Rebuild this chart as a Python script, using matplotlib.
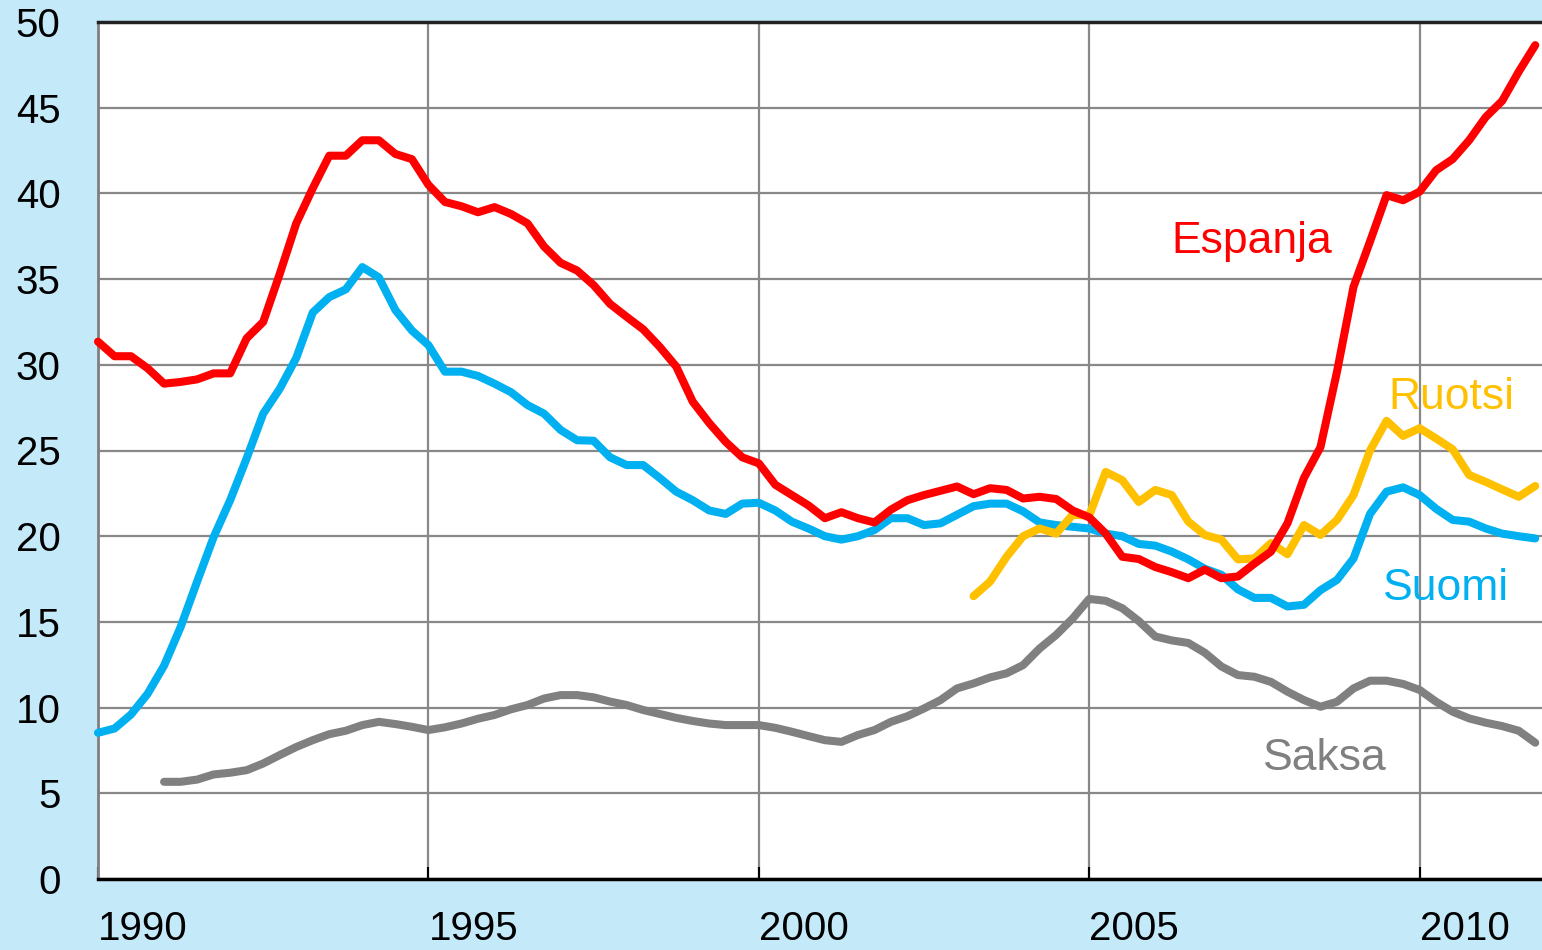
import matplotlib
matplotlib.use("Agg")
import matplotlib.pyplot as plt
import numpy as np

# Quarterly data, 1990Q1 .. 2011Q4
start_year = 1990.0
espanja = [31.35, 30.5, 30.5, 29.8, 28.9, 29.0, 29.15, 29.5, 29.5, 31.55,
           32.5, 35.3, 38.25, 40.3, 42.2, 42.2, 43.1, 43.1, 42.3, 42.0,
           40.5, 39.5, 39.25, 38.9, 39.2, 38.8, 38.25, 36.9, 35.95, 35.5,
           34.65, 33.55, 32.8, 32.07, 31.05, 29.9, 27.85, 26.6, 25.5, 24.6,
           24.25, 23.0, 22.4, 21.8, 21.05, 21.4, 21.05, 20.8, 21.55, 22.1,
           22.4, 22.65, 22.9, 22.45, 22.8, 22.7, 22.2, 22.3, 22.17, 21.5,
           21.1, 20.15, 18.8, 18.67, 18.2, 17.9, 17.55, 18.05, 17.55, 17.65,
           18.4, 19.1, 20.75, 23.4, 25.2, 29.6, 34.55, 37.2, 39.9, 39.6,
           40.1, 41.35, 42.0, 43.1, 44.45, 45.4, 47.1, 48.65]
suomi = [8.53, 8.78, 9.6, 10.8, 12.45, 14.7, 17.35, 19.95, 22.1, 24.55,
         27.15, 28.6, 30.4, 33.05, 33.95, 34.4, 35.7, 35.1, 33.2, 32.0,
         31.15, 29.6, 29.6, 29.35, 28.9, 28.4, 27.65, 27.15, 26.2, 25.6,
         25.57, 24.6, 24.15, 24.15, 23.4, 22.6, 22.1, 21.5, 21.3, 21.9,
         21.95, 21.5, 20.85, 20.45, 20.0, 19.8, 20.0, 20.36, 21.05, 21.05,
         20.65, 20.75, 21.25, 21.75, 21.9, 21.9, 21.45, 20.8, 20.65, 20.55,
         20.45, 20.15, 20.0, 19.55, 19.45, 19.1, 18.65, 18.1, 17.75, 16.9,
         16.4, 16.4, 15.9, 16.0, 16.85, 17.45, 18.7, 21.3, 22.6, 22.85,
         22.4, 21.6, 20.95, 20.85, 20.45, 20.15, 20.0, 19.87]
# Ruotsi starts at 2003Q2 (index 53)
ruotsi_start = 53
ruotsi = [16.5, 17.35, 18.8, 20.0, 20.45, 20.15, 21.25, 21.2, 23.75, 23.27,
          22.0, 22.7, 22.4, 20.85, 20.07, 19.8, 18.65, 18.7, 19.6, 18.95,
          20.65, 20.07, 20.95, 22.4, 25.0, 26.73, 25.85, 26.3, 25.7, 25.07,
          23.57, 23.17, 22.73, 22.3, 22.93]
# Saksa starts at 1991Q1 (index 4)
saksa_start = 4
saksa = [5.67, 5.67, 5.8, 6.1, 6.2, 6.35, 6.74, 7.23, 7.7, 8.1,
         8.45, 8.65, 8.98, 9.17, 9.04, 8.88, 8.69, 8.85, 9.07, 9.35,
         9.57, 9.9, 10.15, 10.53, 10.73, 10.73, 10.6, 10.35, 10.15, 9.86,
         9.63, 9.4, 9.22, 9.07, 8.98, 8.98, 8.98, 8.82, 8.59, 8.34,
         8.1, 8.0, 8.4, 8.69, 9.17, 9.5, 9.95, 10.44, 11.12, 11.41,
         11.76, 12.0, 12.48, 13.45, 14.24, 15.2, 16.34, 16.23, 15.8, 15.05,
         14.15, 13.92, 13.77, 13.2, 12.4, 11.9, 11.8, 11.5, 10.93, 10.44,
         10.05, 10.34, 11.12, 11.57, 11.57, 11.38, 11.03, 10.34, 9.76, 9.37,
         9.12, 8.92, 8.65, 7.95]

series_names = ["Espanja", "Suomi", "Ruotsi", "Saksa"]
colors = {"Espanja": "#ff0000", "Suomi": "#00b0f0", "Ruotsi": "#ffc000", "Saksa": "#808080"}
label_pos = {"Espanja": (2006.25, 36.5), "Ruotsi": (2009.52, 27.4),
             "Suomi": (2009.45, 16.3), "Saksa": (2007.63, 6.36)}

year_ticks = [1990, 1995, 2000, 2005, 2010]
y_ticks = [0, 5, 10, 15, 20, 25, 30, 35, 40, 45, 50]


def qx(offset, n):
    return start_year + (np.arange(n) + offset) / 4.0


data = {
    "Espanja": (qx(0, len(espanja)), espanja),
    "Suomi": (qx(0, len(suomi)), suomi),
    "Ruotsi": (qx(ruotsi_start, len(ruotsi)), ruotsi),
    "Saksa": (qx(saksa_start, len(saksa)), saksa),
}

plt.rcParams['font.family'] = ['Liberation Sans', 'DejaVu Sans']

fig = plt.figure(figsize=(15.42, 9.5), dpi=100)
fig.patch.set_facecolor("#c4e9f9")
ax = fig.add_axes([98 / 1542, 1 - 879 / 950, 1 - 98 / 1542, (879 - 22) / 950])
ax.set_facecolor("white")

for name in ["Saksa", "Suomi", "Ruotsi", "Espanja"]:
    xs, ys = data[name]
    ax.plot(xs, ys, color=colors[name], lw=5.8, solid_joinstyle="round",
            solid_capstyle="round", zorder=3, clip_on=False)

for name in series_names:
    lx, ly = label_pos[name]
    ax.text(lx, ly, name, color=colors[name], fontsize=32, ha="left",
            va="baseline", zorder=4)

ax.set_xlim(1990, 1990 + (1542 - 98) / 66.08)
ax.set_ylim(0, 50)
ax.set_xticks(year_ticks)
ax.set_xticklabels([str(y) for y in year_ticks])
ax.set_yticks(y_ticks)
ax.set_yticklabels([str(v) for v in y_ticks])
for lab in ax.get_xticklabels():
    lab.set_horizontalalignment("left")
    lab.set_x(-0.05)

ax.grid(True, color="#888888", lw=1.6, zorder=1)
ax.set_axisbelow(True)

ax.tick_params(axis="x", direction="in", length=9, width=1.5, color="black",
               labelsize=29, pad=22)
ax.tick_params(axis="y", length=0, labelsize=29, pad=27)

ax.spines["right"].set_visible(False)
ax.spines["bottom"].set_color("black")
ax.spines["bottom"].set_linewidth(2.5)
ax.spines["top"].set_color("#222222")
ax.spines["top"].set_linewidth(2.5)
ax.spines["left"].set_color("#808080")
ax.spines["left"].set_linewidth(2.0)

fig.savefig("out.png", dpi=100, facecolor=fig.get_facecolor())
